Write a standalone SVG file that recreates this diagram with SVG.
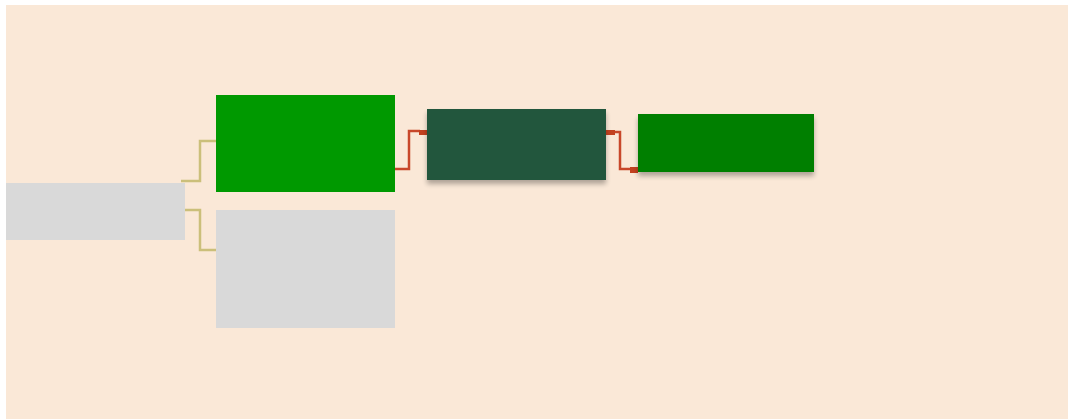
<svg xmlns="http://www.w3.org/2000/svg" width="1072" height="419" viewBox="0 0 1072 419">
<defs>
<style>
.tan{fill:none;stroke:#cbbf7a;stroke-width:2.5}
.red{fill:none;stroke:#c8472a;stroke-width:2.5}
.cap{fill:#c2411f}
</style>
<filter id="sh" x="-10%" y="-20%" width="120%" height="160%">
<feGaussianBlur in="SourceAlpha" stdDeviation="2.5"/>
<feOffset dx="0" dy="4"/>
<feComponentTransfer><feFuncA type="linear" slope="0.3"/></feComponentTransfer>
<feMerge><feMergeNode/><feMergeNode in="SourceGraphic"/></feMerge>
</filter>
</defs>
<rect width="1072" height="419" fill="#ffffff"/>
<rect x="6" y="5" width="1062" height="414" fill="#fae8d7"/>
<g id="connectors">
<path class="tan" d="M181,181 H200 V141 H216"/>
<path class="tan" d="M185,210 H200 V250 H216"/>
<path class="red" d="M395,169 H409 V131 H420"/>
<rect class="cap" x="419" y="130" width="8" height="5"/>
<path class="red" d="M612,132 H620 V169 H632"/>
<rect class="cap" x="606" y="130" width="9" height="5"/>
<rect class="cap" x="630" y="167" width="8" height="6"/>
</g>
<g id="n1"><rect x="6" y="183" width="179" height="57" fill="#d9d9d9"/></g>
<g id="n2"><rect x="216" y="95" width="179" height="97" fill="#009900"/></g>
<g id="n3"><rect x="216" y="210" width="179" height="118" fill="#d9d9d9"/></g>
<g id="n4"><rect x="427" y="109" width="179" height="71" fill="#24573c" filter="url(#sh)"/></g>
<g id="n5"><rect x="638" y="114" width="176" height="58" fill="#007f00" filter="url(#sh)"/></g>
</svg>
